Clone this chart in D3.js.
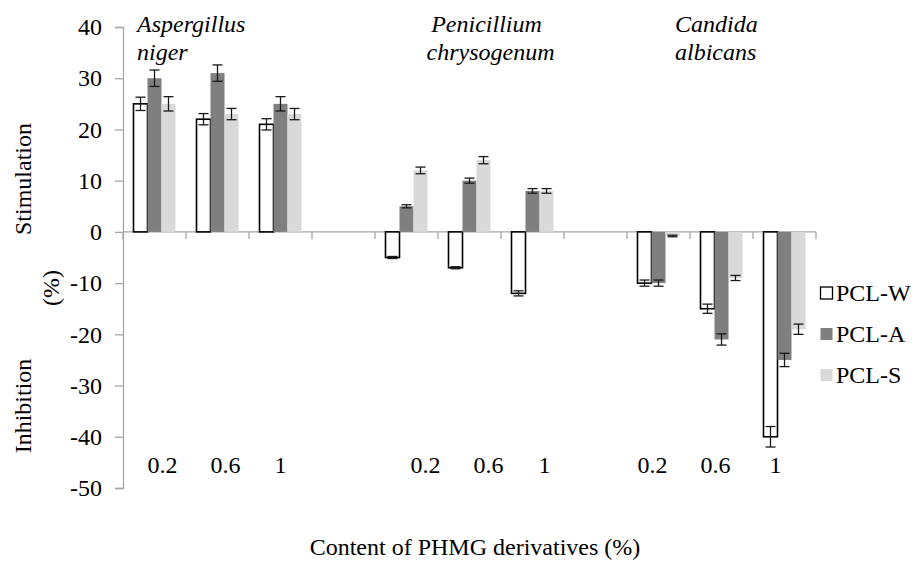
<!DOCTYPE html>
<html>
<head>
<meta charset="utf-8">
<script src="https://cdn.jsdelivr.net/npm/d3@7"></script>
<style>
  body { margin: 0; background: #fff; }
  text { font-family: "Liberation Serif", "Times New Roman", serif; fill: #000; }
</style>
</head>
<body>
<div id="chart"></div>
<script>
// organisms and concentrations
const organisms = [['Aspergillus', 'niger'], ['Penicillium', 'chrysogenum'], ['Candida', 'albicans']];
const contents = ['0.2', '0.6', '1'];
const seriesNames = ['PCL-W', 'PCL-A', 'PCL-S'];

// values per organism x content (niger 0.2,0.6,1 | penicillium ... | candida ...)
const pclW = [25, 22, 21, -5, -7, -12, -10, -15, -40];
const pclA = [30, 31, 25, 5, 10, 8, -10, -21, -25];
const pclS = [25, 23, 23, 12, 14, 8, -0.8, -9, -19];
const errW = [1.3, 1.1, 1.1, 0.2, 0.2, 0.5, 0.6, 0.9, 2];
const errA = [1.6, 1.6, 1.4, 0.3, 0.5, 0.45, 0.6, 1.1, 1.3];
const errS = [1.4, 1.1, 1.1, 0.65, 0.7, 0.45, 0.15, 0.5, 1];

const yTicks = [-50, -40, -30, -20, -10, 0, 10, 20, 30, 40];

const width = 916, height = 565;
const fills = ['#ffffff', '#7f7f7f', '#d9d9d9'];
const axisColor = '#a6a6a6';

const svg = d3.select('#chart').append('svg')
    .attr('width', width)
    .attr('height', height);

// 11 category slots: 3 per organism with an empty slot between organisms
const slots = d3.range(11);
const slotOf = (i) => Math.floor(i / 3) * 4 + (i % 3);

const x = d3.scaleBand().domain(slots).range([123, 816]).paddingInner(0).paddingOuter(0);
const xSub = d3.scaleBand().domain(seriesNames).range([0, x.bandwidth()]).paddingInner(0).paddingOuter(0.75);
const y = d3.scaleLinear().domain([-50, 40]).range([488, 27]);

// y axis (plain hyphen for negatives, like the original)
const yAxis = svg.append('g')
    .attr('transform', 'translate(123,0)')
    .call(d3.axisLeft(y).tickValues(yTicks).tickSize(8).tickPadding(13).tickFormat((d) => String(d)));
yAxis.attr('font-family', '"Liberation Serif", serif').attr('font-size', 24);
yAxis.select('.domain').attr('stroke', axisColor).attr('stroke-width', 1.3);
yAxis.selectAll('.tick line').attr('stroke', axisColor).attr('stroke-width', 1.3);
yAxis.selectAll('.tick text')
    .style('font-size', '24px')
    .style('font-family', '"Liberation Serif", serif')
    .attr('fill', '#000');

// category baseline at 0 with boundary ticks
const base = svg.append('g');
base.append('line')
    .attr('x1', x.range()[0]).attr('x2', x.range()[1])
    .attr('y1', y(0)).attr('y2', y(0))
    .attr('stroke', axisColor).attr('stroke-width', 1.3);
base.selectAll('.btick')
    .data(slots.concat([11]))
    .enter().append('line')
    .attr('x1', (d) => d < 11 ? x(d) : x.range()[1])
    .attr('x2', (d) => d < 11 ? x(d) : x.range()[1])
    .attr('y1', y(0)).attr('y2', y(0) + 7)
    .attr('stroke', axisColor).attr('stroke-width', 1.3);

// bar rows
const rows = [];
pclW.forEach((v, i) => {
  rows.push({s: 'PCL-W', i, v, e: errW[i]});
  rows.push({s: 'PCL-A', i, v: pclA[i], e: errA[i]});
  rows.push({s: 'PCL-S', i, v: pclS[i], e: errS[i]});
});
const color = d3.scaleOrdinal().domain(seriesNames).range(fills);
const barX = (d) => x(slotOf(d.i)) + xSub(d.s);

svg.append('g').selectAll('rect')
    .data(rows)
    .enter().append('rect')
    .attr('x', barX)
    .attr('width', xSub.bandwidth())
    .attr('y', (d) => y(Math.max(0, d.v)))
    .attr('height', (d) => Math.abs(y(d.v) - y(0)))
    .attr('fill', (d) => color(d.s))
    .attr('stroke', (d) => d.s === 'PCL-W' ? '#000' : 'none')
    .attr('stroke-width', 1.6);

// error bars
const eb = svg.append('g').attr('stroke', '#1a1a1a').attr('stroke-width', 1.3);
rows.forEach((d) => {
  const cx = barX(d) + xSub.bandwidth() / 2;
  eb.append('line').attr('x1', cx).attr('x2', cx).attr('y1', y(d.v - d.e)).attr('y2', y(d.v + d.e));
  [d.v - d.e, d.v + d.e].forEach((t) => {
    eb.append('line').attr('x1', cx - 5).attr('x2', cx + 5).attr('y1', y(t)).attr('y2', y(t));
  });
});

// concentration labels (text boxes under each organism)
const groupShift = [8, 19, -6];
const lastShift = [-8, -7, -3];
organisms.forEach((o, g) => {
  contents.forEach((c, k) => {
    const cx = x(g * 4 + k) + x.bandwidth() / 2 + groupShift[g] + (k === 2 ? lastShift[g] : 0);
    svg.append('text')
        .attr('x', cx).attr('y', 473)
        .attr('text-anchor', 'middle')
        .style('font-size', '24px')
        .text(c);
  });
});

// organism names (italic)
const nameAnchor = ['start', 'middle', 'start'];
const namePos = [x(0) + 14, x(5) + x.bandwidth() / 2 + 17, x(8) + 48];
organisms.forEach((o, g) => {
  const t = svg.append('text')
      .attr('text-anchor', nameAnchor[g])
      .style('font-size', '24px')
      .style('font-style', 'italic');
  o.forEach((line, j) => {
    t.append('tspan').attr('x', namePos[g] + (g === 1 && j === 1 ? 4 : 0)).attr('y', 32 + j * 28).text(line);
  });
});

// axis titles
const yTitles = [['Stimulation', 23, 179], ['(%)', 51, 288], ['Inhibition', 23, 406]];
yTitles.forEach(([txt, tx, ty]) => {
  svg.append('text')
      .attr('transform', 'translate(' + tx + ',' + ty + ') rotate(-90)')
      .attr('text-anchor', 'middle')
      .attr('dominant-baseline', 'central')
      .style('font-size', '24px')
      .text(txt);
});
svg.append('text')
    .attr('x', 475).attr('y', 555)
    .attr('text-anchor', 'middle')
    .style('font-size', '24px')
    .text('Content of PHMG derivatives (%)');

// legend
const legend = svg.append('g').attr('transform', 'translate(820,293)');
seriesNames.forEach((s, i) => {
  const row = legend.append('g').attr('transform', 'translate(0,' + i * 41 + ')');
  row.append('rect')
      .attr('x', 0.5).attr('y', -6)
      .attr('width', 12).attr('height', 12)
      .attr('fill', color(s))
      .attr('stroke', s === 'PCL-W' ? '#000' : 'none')
      .attr('stroke-width', 1.3);
  row.append('text')
      .attr('x', 16).attr('y', 0)
      .attr('dominant-baseline', 'central')
      .style('font-size', '24px')
      .text(s);
});
</script>
</body>
</html>
